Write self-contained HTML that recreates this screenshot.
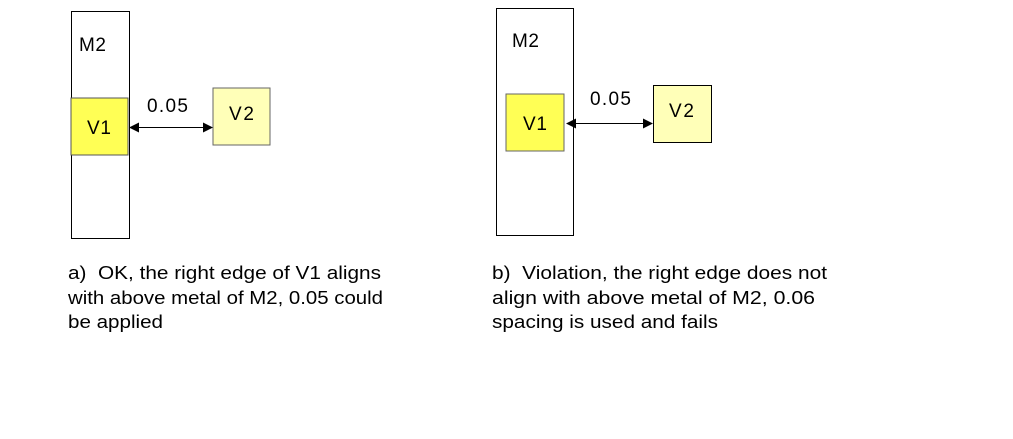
<!DOCTYPE html>
<html><head><style>
html,body{margin:0;padding:0;background:#fff;}
svg{display:block;font-family:"Liberation Sans",sans-serif;}
</style></head><body>
<svg width="1013" height="439" viewBox="0 0 1013 439" xmlns="http://www.w3.org/2000/svg">
<defs>
<marker id="a" markerWidth="10" markerHeight="10" refX="9" refY="5" orient="auto-start-reverse" markerUnits="userSpaceOnUse"><path d="M0,0 L10,5 L0,10 Z" fill="#000"/></marker>
</defs>
<!-- left -->
<rect x="71.5" y="11.5" width="58" height="227" fill="#fff" stroke="#000" stroke-width="1"/>
<rect x="71" y="98" width="57" height="57" fill="#ffff55" stroke="#555" stroke-width="1"/>
<rect x="213" y="88" width="57" height="57" fill="#ffffb8" stroke="#666" stroke-width="1"/>
<line x1="130" y1="127.5" x2="212" y2="127.5" stroke="#000" stroke-width="1" marker-start="url(#a)" marker-end="url(#a)"/>
<!-- right -->
<rect x="496.5" y="8.5" width="77" height="227" fill="#fff" stroke="#000" stroke-width="1"/>
<rect x="506" y="94" width="58" height="57" fill="#ffff55" stroke="#666" stroke-width="1"/>
<rect x="653.5" y="85.5" width="58" height="57" fill="#ffffb8" stroke="#000" stroke-width="1"/>
<line x1="567" y1="123.5" x2="652" y2="123.5" stroke="#000" stroke-width="1" marker-start="url(#a)" marker-end="url(#a)"/>
<g font-size="19">
<text x="79" y="51" textLength="27">M2</text>
<text x="87" y="134" textLength="24">V1</text>
<text x="229" y="120" textLength="25">V2</text>
<text x="147" y="112" textLength="41">0.05</text>
<text x="512" y="47" textLength="27">M2</text>
<text x="523" y="130" textLength="24">V1</text>
<text x="669" y="117" textLength="25">V2</text>
<text x="590" y="105" textLength="41">0.05</text>
</g>
<!-- captions -->
<g font-size="18" fill="#000">
<text x="68" y="279" textLength="313" lengthAdjust="spacingAndGlyphs">a)&#160; OK, the right edge of V1 aligns</text>
<text x="68" y="304" textLength="315" lengthAdjust="spacingAndGlyphs">with above metal of M2, 0.05 could</text>
<text x="68" y="328" textLength="95" lengthAdjust="spacingAndGlyphs">be applied</text>
<text x="492" y="279" textLength="335" lengthAdjust="spacingAndGlyphs">b)&#160; Violation, the right edge does not</text>
<text x="492" y="304" textLength="323" lengthAdjust="spacingAndGlyphs">align with above metal of M2, 0.06</text>
<text x="492" y="328" textLength="226" lengthAdjust="spacingAndGlyphs">spacing is used and fails</text>
</g>
</svg>
</body></html>
